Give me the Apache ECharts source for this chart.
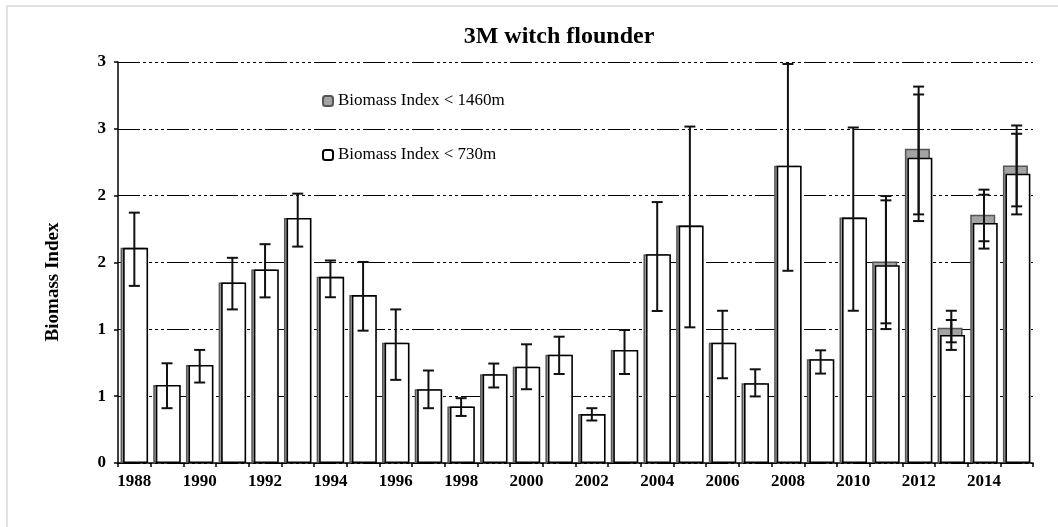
<!DOCTYPE html>
<html><head><meta charset="utf-8">
<script src="https://cdn.jsdelivr.net/npm/echarts@6/dist/echarts.min.js"></script>
<style>html,body{margin:0;padding:0;background:#fff}#c{width:1058px;height:527px}</style>
</head><body><div id="c"></div>
<script>
const years = ['1988','1989','1990','1991','1992','1993','1994','1995','1996','1997','1998','1999','2000','2001',
  '2002','2003','2004','2005','2006','2007','2008','2009','2010','2011','2012','2013','2014','2015'];
const index730 = [1.610,0.584,0.734,1.351,1.448,1.833,1.393,1.256,0.900,0.552,0.423,0.664,0.721,0.810,
  0.366,0.846,1.562,1.776,0.900,0.597,2.224,0.776,1.836,1.480,2.284,0.958,1.796,2.164];
const index1460 = [1.610,0.584,0.734,1.351,1.448,1.833,1.393,1.256,0.900,0.552,0.423,0.664,0.721,0.810,
  0.366,0.846,1.562,1.776,0.900,0.597,2.224,0.776,1.836,1.507,2.351,1.012,1.858,2.226];
const err730Low = [1.325,0.410,0.602,1.149,1.239,1.619,1.240,0.990,0.622,0.410,0.352,0.565,0.552,0.666,
  0.318,0.666,1.137,1.015,0.634,0.498,1.438,0.669,1.139,1.002,1.810,0.846,1.604,1.860];
const err730High = [1.873,0.746,0.846,1.535,1.637,2.015,1.515,1.504,1.149,0.692,0.485,0.744,0.888,0.945,
  0.410,0.995,1.952,2.517,1.139,0.701,2.985,0.843,2.510,1.965,2.757,1.070,2.007,2.463];
const err1460Low = [null,null,null,null,null,null,null,null,null,null,null,null,null,null,
  null,null,null,null,null,null,null,null,null,1.045,1.860,0.903,1.659,1.920];
const err1460High = [null,null,null,null,null,null,null,null,null,null,null,null,null,null,
  null,null,null,null,null,null,null,null,null,1.997,2.816,1.139,2.045,2.525];
const yTicks = [0, 0.5, 1, 1.5, 2, 2.5, 3];
const yTickLabels = ['0','1','1','2','2','3','3'];
const titleText = '3M witch flounder';
const yName = 'Biomass Index';
const name1460 = 'Biomass Index < 1460m';
const name730 = 'Biomass Index < 730m';

const serif = '"Liberation Serif", "Times New Roman", serif';
const chart = echarts.init(document.getElementById('c'));

function errData(lo, hi) {
  const out = [];
  lo.forEach((v, i) => { if (v != null) out.push([i, v, hi[i]]); });
  return out;
}
function errRender(offset) {
  return function (params, api) {
    const i = api.value(0);
    const lo = api.coord([i, api.value(1)]);
    const hi = api.coord([i, api.value(2)]);
    const x = lo[0] + offset, h = 5.5;
    const style = { stroke: '#111', lineWidth: 2 };
    return { type: 'group', children: [
      { type: 'line', shape: { x1: x, y1: lo[1], x2: x, y2: hi[1] }, style: style },
      { type: 'line', shape: { x1: x - h, y1: lo[1], x2: x + h, y2: lo[1] }, style: style },
      { type: 'line', shape: { x1: x - h, y1: hi[1], x2: x + h, y2: hi[1] }, style: style }
    ]};
  };
}

chart.setOption({
  animation: false,
  backgroundColor: '#fff',
  graphic: [
    { type: 'rect', shape: { x: 7, y: 6, width: 1100, height: 600 }, style: { fill: 'none', stroke: '#d9d9d9', lineWidth: 1.5 }, z: -10 },
    { type: 'text', x: 559, y: 37, style: { text: titleText, font: 'bold 24px ' + serif, fill: '#000', textAlign: 'center', textVerticalAlign: 'middle' } },
    { type: 'text', x: 53, y: 282, rotation: Math.PI / 2, style: { text: yName, font: 'bold 19px ' + serif, fill: '#000', textAlign: 'center', textVerticalAlign: 'middle' } }
  ],
  legend: {
    orient: 'vertical', left: 317, top: 86,
    data: [name1460, name730],
    itemWidth: 10, itemHeight: 10, itemGap: 34,
    icon: 'roundRect',
    textStyle: { fontFamily: serif, fontSize: 17, color: '#000', lineHeight: 20 }
  },
  grid: { left: 118, right: 25, top: 62, bottom: 64 },
  xAxis: {
    type: 'category', data: years, boundaryGap: true,
    axisLine: { lineStyle: { color: '#000', width: 1.5 } },
    axisTick: { show: true, interval: 0, length: 4, lineStyle: { color: '#000', width: 1.5 } },
    axisLabel: { interval: 1, margin: 10, fontFamily: serif, fontWeight: 'bold', fontSize: 17, color: '#000' },
    splitLine: { show: false }
  },
  yAxis: {
    type: 'value', min: 0, max: 3, interval: 0.5,
    axisLine: { show: true, lineStyle: { color: '#000', width: 1.5 } },
    axisTick: { show: true, length: 4, lineStyle: { color: '#000', width: 1.5 } },
    axisLabel: { margin: 12, fontFamily: serif, fontWeight: 'bold', fontSize: 17, color: '#000',
      formatter: v => yTickLabels[yTicks.indexOf(v)] },
    splitLine: { show: true, lineStyle: { color: '#000', width: 1.2, type: [22, 3, 3, 3, 3, 3, 3, 3, 3, 3] } }
  },
  series: [
    { name: name1460, type: 'bar', data: index1460, barWidth: 25, barGap: '-90%',
      itemStyle: { color: '#a3a3a3', borderColor: '#555', borderWidth: 1.5 }, z: 2 },
    { name: name730, type: 'bar', data: index730, barWidth: 25, barGap: '-90%',
      itemStyle: { color: '#fff', borderColor: '#000', borderWidth: 1.6 }, z: 3 },
    { name: 'err1460', type: 'custom', data: errData(err1460Low, err1460High), encode: { x: 0, y: [1, 2] },
      renderItem: errRender(0), z: 5 },
    { name: 'err730', type: 'custom', data: errData(err730Low, err730High), encode: { x: 0, y: [1, 2] },
      renderItem: errRender(0), z: 6 }
  ]
});
</script></body></html>
